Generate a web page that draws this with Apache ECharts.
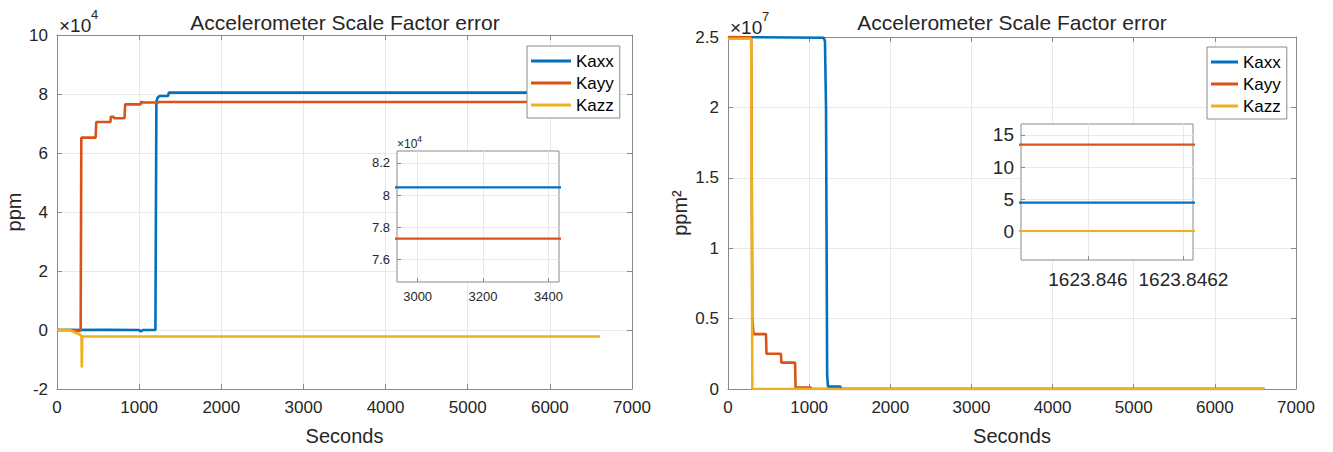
<!DOCTYPE html>
<html>
<head>
<meta charset="utf-8">
<script src="https://cdn.jsdelivr.net/npm/echarts@6/dist/echarts.min.js"></script>
<style>
  html, body { margin: 0; padding: 0; background: #ffffff; }
  #chart { width: 1333px; height: 452px; }
</style>
</head>
<body>
<div id="chart"></div>
<script>
// Scale factor error estimate (ppm) against time (s)
const scaleKaxx = [[0, 0], [600, 100], [1000, 0], [1020, -500], [1045, 0], [1198, 0], [1210, 77500], [1228, 78900],
  [1250, 79300], [1352, 79300], [1362, 80480], [6610, 80480]];
const scaleKayy = [[0, 0], [200, 0], [270, -400], [288, 0], [296, 65200], [470, 65200], [478, 70500], [650, 70500],
  [656, 72300], [688, 72300], [695, 71800], [822, 71800], [830, 76500], [1018, 76500], [1025, 77500], [1040, 77100],
  [1230, 77100], [1245, 77290], [6610, 77290]];
const scaleKazz = [[0, 0], [150, 0], [270, -1500], [298, -1900], [302, -12700], [308, -2200], [6610, -2200]];

// Scale factor error variance (ppm^2) against time (s)
const varKaxx = [[0, 25000000], [1180, 24950000], [1195, 24700000], [1208, 20000000], [1222, 1000000],
  [1232, 170000], [1385, 170000], [1392, 0], [6610, 0]];
const varKayy = [[0, 25000000], [286, 25000000], [300, 5000000], [315, 3900000], [468, 3900000], [474, 2500000],
  [652, 2500000], [658, 1870000], [827, 1870000], [833, 100000], [1020, 100000], [1030, 0], [6610, 0]];
const varKazz = [[0, 24880000], [286, 24880000], [300, 0], [6610, 0]];

// Close-up of the converged variance
const zoomSeconds = [1623.8458, 1623.8463];
const zoomKaxx = [4.5, 4.5];
const zoomKayy = [13.5, 13.5];
const zoomKazz = [0.1, 0.1];

// Tick values of the close-up panels
const scaleInsetXTicks = [3000, 3200, 3400];
const scaleInsetYTicks = [76000, 78000, 80000, 82000];
const varInsetXTicks = ['1623.846', '1623.8462'];
const varInsetYTicks = [0, 5, 10, 15];

const seriesNames = ['Kaxx', 'Kayy', 'Kazz'];
const colors = ['#0072BD', '#D95319', '#EDB120'];

const FONT = '"Liberation Sans", Arial, Helvetica, sans-serif';
const AXIS = '#8a8a8a';
const TEXT = '#262626';
const GRIDC = '#e9e9e9';

const pairs = (xs, ys) => xs.map((x, i) => [x, ys[i]]);

function boxAxis(base, grid, pos, labels, extra) {
  return Object.assign({
    type: 'value', gridIndex: grid, position: pos,
    axisLine: { show: true, onZero: false, lineStyle: { color: AXIS, width: 1 } },
    axisTick: { show: true, inside: true, length: 5, lineStyle: { color: AXIS } },
    axisLabel: { show: labels, fontSize: 17, color: TEXT, fontFamily: FONT },
    splitLine: { show: labels, lineStyle: { color: GRIDC, width: 1 } }
  }, base, extra || {});
}

const xRange = { min: 0, max: 7000, interval: 1000 };
const seconds = {
  axisLabel: { fontSize: 17, color: TEXT, fontFamily: FONT, margin: 10, formatter: v => String(v) },
  name: 'Seconds', nameLocation: 'middle', nameGap: 37,
  nameTextStyle: { fontSize: 20, color: TEXT, fontFamily: FONT }
};
const scaleRange = { min: -20000, max: 100000, interval: 20000 };
const varRange = { min: 0, max: 25000000, interval: 5000000 };

function insetAxis(grid, pos, range, ticks, fontSize, margin, fmt) {
  return Object.assign({
    type: 'value', gridIndex: grid, position: pos, z: 4,
    axisLine: { show: false, onZero: false },
    axisTick: { show: true, inside: true, length: 4, customValues: ticks, lineStyle: { color: AXIS } },
    axisLabel: { show: true, customValues: ticks, fontSize: fontSize, color: TEXT, fontFamily: FONT,
      margin: margin, formatter: fmt },
    splitLine: { show: true, lineStyle: { color: GRIDC, width: 1 } }
  }, range);
}

const xAxis = [
  boxAxis(xRange, 0, 'bottom', true, seconds),
  boxAxis(xRange, 0, 'top', false),
  insetAxis(1, 'bottom', { min: 2937, max: 3432 }, scaleInsetXTicks, 13, 8, v => String(v)),
  boxAxis(xRange, 2, 'bottom', true, seconds),
  boxAxis(xRange, 2, 'top', false),
  insetAxis(3, 'bottom', { min: 1623.84586, max: 1623.84622 }, varInsetXTicks.map(Number), 19, 10,
    v => varInsetXTicks[varInsetXTicks.map(Number).indexOf(v)] || '')
];

const yAxis = [
  boxAxis(scaleRange, 0, 'left', true, {
    axisLabel: { fontSize: 17, color: TEXT, fontFamily: FONT, margin: 9, formatter: v => String(v / 1e4) },
    name: 'ppm', nameLocation: 'middle', nameGap: 33,
    nameTextStyle: { fontSize: 20, color: TEXT, fontFamily: FONT }
  }),
  boxAxis(scaleRange, 0, 'right', false),
  insetAxis(1, 'left', { min: 74600, max: 82740 }, scaleInsetYTicks, 13, 7, v => String(v / 1e4)),
  boxAxis(varRange, 2, 'left', true, {
    axisLabel: { fontSize: 17, color: TEXT, fontFamily: FONT, margin: 9, formatter: v => String(v / 1e7) },
    name: 'ppm²', nameLocation: 'middle', nameGap: 38,
    nameTextStyle: { fontSize: 20, color: TEXT, fontFamily: FONT }
  }),
  boxAxis(varRange, 2, 'right', false),
  insetAxis(3, 'left', { min: -4.4, max: 16.7 }, varInsetYTicks, 19, 7, v => String(v))
];

function line(name, idx, data, xi, yi, width, z) {
  return {
    type: 'line', name: name, data: data, xAxisIndex: xi, yAxisIndex: yi,
    showSymbol: false, symbol: 'none', z: z, clip: true,
    lineStyle: { color: colors[idx], width: width },
    itemStyle: { color: colors[idx] },
    emphasis: { disabled: true }
  };
}

const series = [
  line('Kaxx', 0, scaleKaxx, 0, 0, 2.6, 2),
  line('Kayy', 1, scaleKayy, 0, 0, 2.6, 2),
  line('Kazz', 2, scaleKazz, 0, 0, 2.6, 2),
  line('Kaxx', 0, scaleKaxx, 2, 2, 2.2, 5),
  line('Kayy', 1, scaleKayy, 2, 2, 2.2, 5),
  line('Kazz', 2, scaleKazz, 2, 2, 2.2, 5),
  line('Kaxx', 0, varKaxx, 3, 3, 2.6, 2),
  line('Kayy', 1, varKayy, 3, 3, 2.6, 2),
  line('Kazz', 2, varKazz, 3, 3, 2.6, 2),
  line('Kaxx', 0, pairs(zoomSeconds, zoomKaxx), 5, 5, 2.2, 5),
  line('Kayy', 1, pairs(zoomSeconds, zoomKayy), 5, 5, 2.2, 5),
  line('Kazz', 2, pairs(zoomSeconds, zoomKazz), 5, 5, 2.2, 5)
];

function legendBox(left, top, itemWidth) {
  return {
    data: seriesNames, orient: 'vertical', left: left, top: top,
    icon: 'rect', itemWidth: itemWidth, itemHeight: 3, itemGap: 2,
    padding: [5, 6, 3, 4], backgroundColor: '#ffffff',
    borderColor: AXIS, borderWidth: 1, borderRadius: 0, selectedMode: false,
    textStyle: { fontSize: 17, color: '#000000', fontFamily: FONT, lineHeight: 20 }
  };
}

function label(text, x, y, size, align) {
  return { type: 'text', x: x, y: y, z: 10, silent: true,
    style: { text: text, fontSize: size, fontFamily: FONT, fill: TEXT,
      textAlign: align || 'left', textVerticalAlign: 'middle' } };
}

const option = {
  animation: false,
  backgroundColor: '#ffffff',
  grid: [
    { left: 57, top: 35, width: 575, height: 354, show: false, outerBoundsMode: 'none' },
    { left: 397, top: 151, width: 162, height: 131, show: true, z: 3, backgroundColor: '#ffffff',
      borderColor: AXIS, borderWidth: 1, outerBoundsMode: 'none' },
    { left: 728, top: 37, width: 568, height: 352, show: false, outerBoundsMode: 'none' },
    { left: 1021, top: 124, width: 172, height: 136, show: true, z: 3, backgroundColor: '#ffffff',
      borderColor: AXIS, borderWidth: 1, outerBoundsMode: 'none' }
  ],
  xAxis: xAxis,
  yAxis: yAxis,
  legend: [legendBox(527, 46, 40), legendBox(1207, 47, 27)],
  series: series,
  graphic: [
    label('Accelerometer Scale Factor error', 345, 22, 21, 'center'),
    label('Accelerometer Scale Factor error', 1012, 22, 21, 'center'),
    label('×10', 59, 25, 19),
    label('4', 91, 14, 13),
    label('×10', 730, 27, 19),
    label('7', 762, 16, 13),
    label('×10', 397, 144, 12),
    label('4', 417, 139, 9)
  ]
};

const chart = echarts.init(document.getElementById('chart'), null, { renderer: 'svg' });
chart.setOption(option);
</script>
</body>
</html>
